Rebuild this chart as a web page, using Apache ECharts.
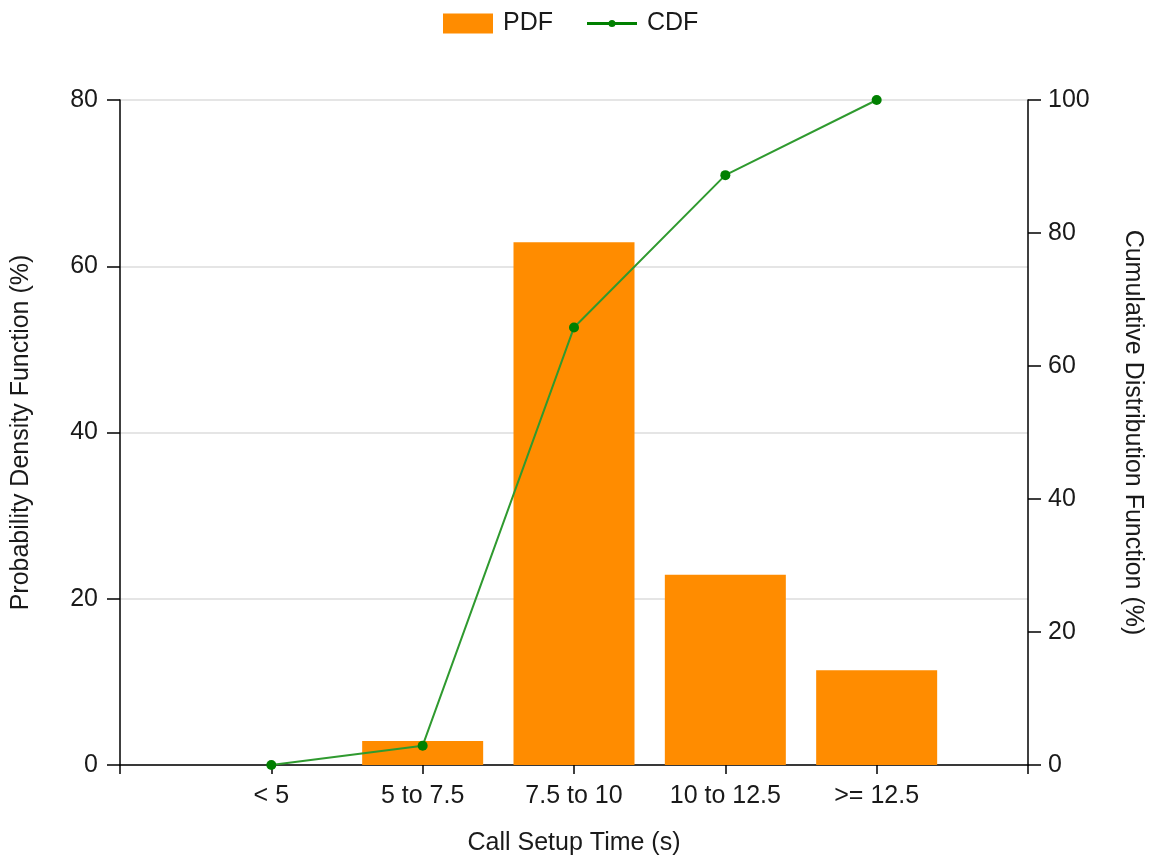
<!DOCTYPE html>
<html>
<head>
<meta charset="utf-8">
<script src="https://cdn.jsdelivr.net/npm/echarts@6/dist/echarts.min.js"></script>
<style>
html,body{margin:0;padding:0;background:#fff;}
#c{width:1155px;height:861px;}
</style>
</head>
<body>
<div id="c"></div>
<script>
const categories = ['< 5', '5 to 7.5', '7.5 to 10', '10 to 12.5', '>= 12.5'];
const pdfValues = [0, 2.9, 62.9, 22.9, 11.4];
const cdfValues = [0, 2.9, 65.8, 88.7, 100];
const leftTicks = {min: 0, max: 80, interval: 20};
const rightTicks = {min: 0, max: 100, interval: 20};

// pad with empty end categories so the axis spans one extra slot each side
const xCats = [''].concat(categories, ['']);
const pdfData = [null].concat(pdfValues, [null]);
const cdfData = [null].concat(cdfValues, [null]);

const FONT = 'Liberation Sans, Arial, sans-serif';
const TXT = '#1a1a1a';
const FS = 25;

const cdfIcon = 'path://M0,2L22.5,2L22.5,5L0,5Z M27.5,2L50,2L50,5L27.5,5Z M21.5,3.5A3.5,3.5 0 1,1 28.5,3.5A3.5,3.5 0 1,1 21.5,3.5Z';

const chart = echarts.init(document.getElementById('c'), null, {renderer: 'canvas'});
chart.setOption({
  animation: false,
  backgroundColor: '#fff',
  textStyle: {fontFamily: FONT},
  legend: {
    top: 11,
    left: 443,
    padding: 0,
    itemWidth: 50,
    itemHeight: 20,
    itemGap: 34,
    symbolKeepAspect: true,
    textStyle: {fontSize: FS, color: TXT, fontFamily: FONT, padding: [0, 0, 0, 5]},
    data: [
      {name: 'PDF', icon: 'rect'},
      {name: 'CDF', icon: cdfIcon, itemStyle: {color: '#008000'}}
    ]
  },
  grid: {left: 120, right: 127, top: 100, bottom: 96, containLabel: false},
  xAxis: {
    type: 'category',
    data: xCats,
    boundaryGap: false,
    name: 'Call Setup Time (s)',
    nameLocation: 'middle',
    nameGap: 66,
    nameTextStyle: {fontSize: FS, color: TXT, fontFamily: FONT},
    axisLine: {lineStyle: {color: '#000', width: 1.5}},
    axisTick: {show: true, length: 9, alignWithLabel: true, lineStyle: {color: '#000', width: 1.5}},
    axisLabel: {fontSize: FS, color: TXT, margin: 19, fontFamily: FONT, interval: 0},
    splitLine: {show: false}
  },
  yAxis: [
    {
      type: 'value',
      min: leftTicks.min, max: leftTicks.max, interval: leftTicks.interval,
      name: 'Probability Density Function (%)',
      nameLocation: 'middle',
      nameGap: 86,
      nameTextStyle: {fontSize: FS, color: TXT, fontFamily: FONT},
      axisLine: {show: true, lineStyle: {color: '#000', width: 1.5}},
      axisTick: {show: true, length: 13, lineStyle: {color: '#000', width: 1.5}},
      axisLabel: {fontSize: FS, color: TXT, margin: 22, fontFamily: FONT},
      splitLine: {show: true, lineStyle: {color: '#dcdcdc', width: 1.5}}
    },
    {
      type: 'value',
      position: 'right',
      min: rightTicks.min, max: rightTicks.max, interval: rightTicks.interval,
      name: 'Cumulative Distribution Function (%)',
      nameLocation: 'middle',
      nameGap: 92,
      nameRotate: -90,
      nameTextStyle: {fontSize: FS, color: TXT, fontFamily: FONT},
      axisLine: {show: true, lineStyle: {color: '#000', width: 1.5}},
      axisTick: {show: true, length: 13, lineStyle: {color: '#000', width: 1.5}},
      axisLabel: {fontSize: FS, color: TXT, margin: 20, fontFamily: FONT},
      splitLine: {show: false}
    }
  ],
  series: [
    {
      name: 'PDF',
      type: 'bar',
      data: pdfData,
      barWidth: 121,
      itemStyle: {color: '#FF8C00'},
      z: 2
    },
    {
      name: 'CDF',
      type: 'line',
      yAxisIndex: 1,
      data: cdfData,
      connectNulls: false,
      symbol: 'circle',
      symbolSize: 10,
      showAllSymbol: true,
      lineStyle: {color: '#2f9a2f', width: 2},
      itemStyle: {color: '#008000'},
      z: 3
    }
  ]
});
</script>
</body>
</html>
